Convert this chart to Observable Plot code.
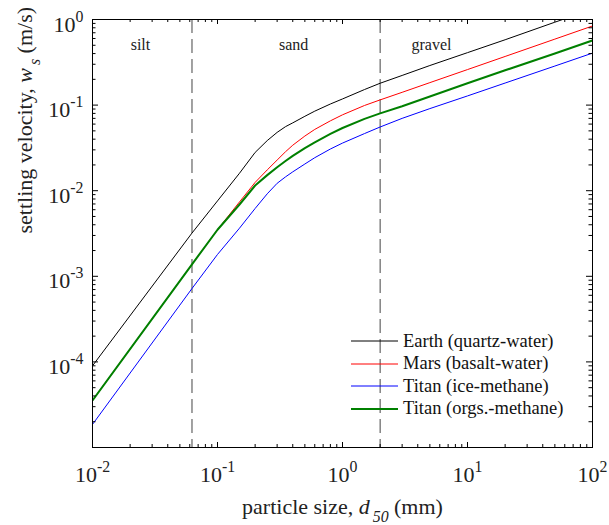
<!DOCTYPE html>
<html>
<head>
<meta charset="utf-8">
<script src="https://cdn.jsdelivr.net/npm/d3@7"></script>
<script src="https://cdn.jsdelivr.net/npm/@observablehq/plot@0.6"></script>
<style>
  html, body { margin: 0; padding: 0; background: #fff; }
  #wrap { position: relative; width: 609px; height: 525px; font-family: "Liberation Serif", "Times New Roman", Times, serif; }
  #legend { position: absolute; left: 351px; top: 330px; font-size: 18.5px; color: #111; }
  #legend .row { display: flex; align-items: center; height: 22.5px; white-space: nowrap; }
  #legend svg { display: block; margin-right: 5px; }
</style>
</head>
<body>
<div id="wrap"><div id="legend"></div></div>
<script>
// ---- data ----
const d50 = [0.01, 0.0625, 0.1, 0.15, 0.2, 0.25, 0.3, 0.35, 0.4, 0.5, 0.6, 0.8, 1, 1.5, 2, 3, 5, 10, 20, 50, 100]; // mm
const earth    = [9.0e-5, 3.2e-3, 7.6e-3, 0.0160, 0.0280, 0.0385, 0.0480, 0.0560, 0.0620, 0.0740, 0.0850, 0.103, 0.118, 0.152, 0.180, 0.222, 0.29, 0.41, 0.58, 0.93, 1.32];
const mars     = [3.55e-5, 1.38e-3, 3.5e-3, 7.4e-3, 0.0125, 0.0175, 0.0228, 0.0285, 0.0340, 0.0435, 0.0520, 0.0655, 0.077, 0.099, 0.115, 0.141, 0.183, 0.26, 0.37, 0.59, 0.84];
const titanIce = [1.86e-5, 7.2e-4, 1.8e-3, 3.65e-3, 6.2e-3, 9.2e-3, 0.0122, 0.0145, 0.0166, 0.0205, 0.0243, 0.0307, 0.0360, 0.0465, 0.0555, 0.070, 0.091, 0.128, 0.181, 0.286, 0.405];
const titanOrg = [3.55e-5, 1.38e-3, 3.5e-3, 6.9e-3, 0.0115, 0.0152, 0.0188, 0.0222, 0.0255, 0.0315, 0.0368, 0.046, 0.054, 0.069, 0.080, 0.097, 0.126, 0.18, 0.255, 0.40, 0.57];

const seriesNames  = ["Earth (quartz-water)", "Mars (basalt-water)", "Titan (ice-methane)", "Titan (orgs.-methane)"];
const seriesValues = [earth, mars, titanIce, titanOrg];
const seriesColors = ["#000000", "#ff0000", "#0000ff", "#008000"];
const seriesWidths = [1, 1, 1, 2];

const boundaries = [0.0625, 2];                 // silt/sand, sand/gravel (mm)
const regionNames = ["silt", "sand", "gravel"];
const regionX = [0.0242, 0.406, 5.15];

const xTicks = [0.01, 0.1, 1, 10, 100];
const xTickLabels = ["10^{-2}", "10^{-1}", "10^{0}", "10^{1}", "10^{2}"];
const yTicks = [1, 0.1, 0.01, 0.001, 0.0001];
const yTickLabels = ["10^{0}", "10^{-1}", "10^{-2}", "10^{-3}", "10^{-4}"];
const xTitle = "particle size, *d*_{*50*} (mm)";
const yTitle = "settling velocity, *w*_{*s*} (m/s)";

// ---- derived ----
const rows = seriesNames.flatMap((s, k) => d50.map((x, i) => ({series: s, x, y: seriesValues[k][i]})));
const decadesX = [0.01, 0.1, 1, 10];
const decadesY = [1e-5, 1e-4, 1e-3, 1e-2, 1e-1];
const minorX = decadesX.flatMap(d => [2,3,4,5,6,7,8,9].map(m => d * m));
const minorY = decadesY.flatMap(d => [2,3,4,5,6,7,8,9].map(m => d * m));

const W = 609, H = 525, mt = 19, mr = 17, mb = 78, ml = 92;
const iw = W - ml - mr, ih = H - mt - mb;
const FONT = "'Liberation Serif', 'Times New Roman', Times, serif";

const lineMarks = seriesNames.map((s, k) =>
  Plot.line(rows.filter(r => r.series === s), {x: "x", y: "y", stroke: seriesColors[k], strokeWidth: seriesWidths[k], clip: true})
);

const chart = Plot.plot({
  width: W, height: H,
  marginTop: mt, marginRight: mr, marginBottom: mb, marginLeft: ml,
  style: {fontFamily: FONT, background: "#fff", color: "#000"},
  x: {type: "log", domain: [0.01, 100], axis: null},
  y: {type: "log", domain: [1e-5, 1], axis: null},
  marks: [
    Plot.ruleX(boundaries, {x: d => d, stroke: "#444", strokeWidth: 1, strokeDasharray: "14,6"}),
    ...lineMarks,
    // ticks (inside, all four sides)
    Plot.tickX(xTicks, {x: d => d, insetTop: ih - 5, stroke: "#000"}),
    Plot.tickX(xTicks, {x: d => d, insetBottom: ih - 5, stroke: "#000"}),
    Plot.tickX(minorX, {x: d => d, insetTop: ih - 3, stroke: "#000"}),
    Plot.tickX(minorX, {x: d => d, insetBottom: ih - 3, stroke: "#000"}),
    Plot.tickY(yTicks, {y: d => d, insetRight: iw - 6, stroke: "#000"}),
    Plot.tickY(yTicks, {y: d => d, insetLeft: iw - 6, stroke: "#000"}),
    Plot.tickY(minorY, {y: d => d, insetRight: iw - 3.5, stroke: "#000"}),
    Plot.tickY(minorY, {y: d => d, insetLeft: iw - 3.5, stroke: "#000"}),
    Plot.frame({stroke: "#000", strokeWidth: 1}),
    // tick labels
    Plot.text(xTicks, {x: d => d, text: (d, i) => xTickLabels[i], frameAnchor: "bottom", lineAnchor: "bottom", dy: 34, fontSize: 22, fill: "#222"}),
    Plot.text(yTicks, {y: d => d, text: (d, i) => yTickLabels[i], frameAnchor: "left", textAnchor: "end", lineAnchor: "bottom", dx: -9, dy: 12, fontSize: 22, fill: "#222"}),
    // region labels
    Plot.text(regionNames, {x: (d, i) => regionX[i], text: d => d, frameAnchor: "top", lineAnchor: "bottom", dy: 30, fontSize: 16, fill: "#222"}),
    // axis titles
    Plot.text([xTitle], {text: d => d, frameAnchor: "bottom", lineAnchor: "bottom", dy: 66, fontSize: 22, fill: "#222"}),
    Plot.text([yTitle], {text: d => d, frameAnchor: "left", lineAnchor: "bottom", rotate: -90, dx: -61, fontSize: 22, fill: "#222"})
  ]
});

const wrap = document.getElementById("wrap");
wrap.insertBefore(chart, wrap.firstChild);

// rich text: ^{sup}, _{sub}, *italic*
const NS = "http://www.w3.org/2000/svg";
function rich(el) {
  const s = el.textContent;
  if (!/[\^_*]/.test(s)) return;
  const fs = parseFloat(getComputedStyle(el).fontSize) || 16;
  el.textContent = "";
  const re = /\^\{([^}]*)\}|_\{([^}]*)\}|\*([^*]+)\*|([^*_^]+)/g;
  let shift = 0, m;
  while ((m = re.exec(s))) {
    let txt, mode;
    if (m[1] != null) { txt = m[1]; mode = "sup"; }
    else if (m[2] != null) { txt = m[2]; mode = "sub"; }
    else if (m[3] != null) { txt = m[3]; mode = "it"; }
    else { txt = m[4]; mode = "n"; }
    let italic = mode === "it";
    if ((mode === "sup" || mode === "sub") && /^\*.*\*$/.test(txt)) { italic = true; txt = txt.slice(1, -1); }
    const t = document.createElementNS(NS, "tspan");
    t.textContent = txt;
    const target = mode === "sup" ? -0.45 * fs : mode === "sub" ? 0.38 * fs : 0;
    const d = target - shift;
    if (d) t.setAttribute("dy", d);
    shift = target;
    if (mode === "sup" || mode === "sub") t.setAttribute("font-size", 0.72 * fs);
    if (mode === "sub") t.setAttribute("dx", 3);
    if (italic) t.setAttribute("font-style", "italic");
    el.appendChild(t);
  }
}
chart.querySelectorAll("text").forEach(rich);

// legend
const legend = document.getElementById("legend");
seriesNames.forEach((s, k) => {
  const row = document.createElement("div");
  row.className = "row";
  const sw = document.createElementNS(NS, "svg");
  sw.setAttribute("width", 47); sw.setAttribute("height", 6);
  const ln = document.createElementNS(NS, "line");
  ln.setAttribute("x1", 0); ln.setAttribute("x2", 47); ln.setAttribute("y1", 3); ln.setAttribute("y2", 3);
  ln.setAttribute("stroke", seriesColors[k]); ln.setAttribute("stroke-width", seriesWidths[k]);
  sw.appendChild(ln);
  const lab = document.createElement("span");
  lab.textContent = s;
  row.appendChild(sw); row.appendChild(lab);
  legend.appendChild(row);
});
</script>
</body>
</html>
